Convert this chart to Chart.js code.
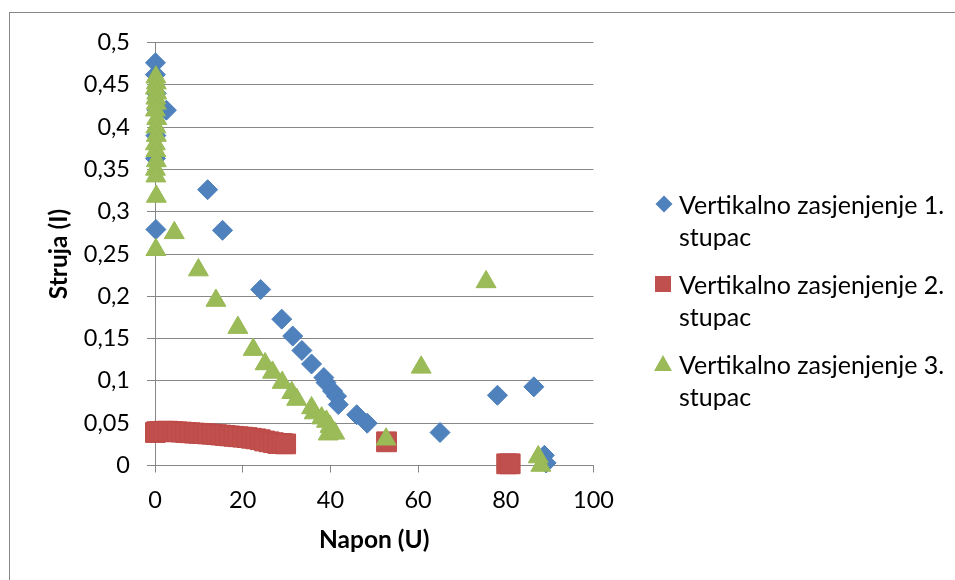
<!DOCTYPE html>
<html>
<head>
<meta charset="utf-8">
<script src="https://cdn.jsdelivr.net/npm/chart.js@4/dist/chart.umd.min.js"></script>
<style>
  html, body { margin: 0; padding: 0; background: #ffffff; }
  #wrap { position: relative; width: 955px; height: 580px; overflow: hidden; background: #fff; }
  #frame { position: absolute; left: 9px; top: 12px; width: 1000px; height: 700px;
           border-left: 1px solid #878787; border-top: 1px solid #878787; }
  #c { position: absolute; left: 0; top: 0; }
  .entry { position: absolute; left: 679px; font-family: Lato, "Open Sans", sans-serif;
           font-size: 25px; line-height: 32px; color: #000; white-space: nowrap; }
  .mk { position: absolute; }
  .mk.diamond { width: 12px; height: 12px; background: #4F81BD; transform: rotate(45deg); left: -21px; top: 10px; }
  .mk.square { width: 16px; height: 16px; background: #C0504D; left: -24px; top: 8px; }
  .mk.tri { width: 0; height: 0; border-left: 9px solid transparent; border-right: 9px solid transparent;
            border-bottom: 16px solid #9BBB59; left: -25px; top: 7px; }
</style>
</head>
<body>
<div id="wrap">
  <div id="frame"></div>
  <canvas id="c" width="955" height="580"></canvas>
  <div class="entry" id="e1" style="top:188px"><span class="mk diamond"></span>Vertikalno zasjenjenje 1.<br>stupac</div>
  <div class="entry" id="e2" style="top:268px"><span class="mk square"></span>Vertikalno zasjenjenje 2.<br>stupac</div>
  <div class="entry" id="e3" style="top:348px"><span class="mk tri"></span>Vertikalno zasjenjenje 3.<br>stupac</div>
</div>
<script>
// ---- data ----
const seriesNames = ['Vertikalno zasjenjenje 1. stupac', 'Vertikalno zasjenjenje 2. stupac', 'Vertikalno zasjenjenje 3. stupac'];

const blueX = [0.1, 0.1, 0.3, 0.5, 2.6, 0.2, 0.1, 0.2, 12.0, 15.4, 24.1, 28.9, 31.4, 33.5, 35.7, 38.5, 39.0, 40.5, 41.4, 41.8, 46.0, 48.4, 65.0, 78.1, 86.4, 88.8, 89.2];
const blueY = [0.476, 0.462, 0.44, 0.42, 0.42, 0.39, 0.363, 0.279, 0.326, 0.278, 0.208, 0.173, 0.153, 0.136, 0.120, 0.104, 0.098, 0.088, 0.082, 0.072, 0.060, 0.050, 0.039, 0.083, 0.093, 0.012, 0.003];

const redX = [0.1, 0.4, 1, 2, 3, 4, 5, 6, 7, 8, 9, 10, 11, 12, 13, 14, 15, 16, 17, 18, 19, 20, 21, 22, 23, 24, 25, 26, 27, 28, 29, 29.8, 52.8, 80.2, 81.0];
const redY = [0.039, 0.040, 0.040, 0.0405, 0.0405, 0.040, 0.0398, 0.0395, 0.039, 0.0387, 0.0383, 0.038, 0.0377, 0.0373, 0.037, 0.0365, 0.036, 0.0355, 0.035, 0.0345, 0.034, 0.0335, 0.033, 0.0322, 0.0315, 0.0305, 0.029, 0.028, 0.027, 0.026, 0.026, 0.0255, 0.028, 0.002, 0.002];

const greenX = [0.2, 0.3, 0.1, 0.4, 0.2, 0.3, 0.1, 0.4, 0.2, 0.3, 0.1, 0.2, 0.3, 0.1, 0.2, 0.3, 0.2, 4.4, 9.9, 13.9, 18.9, 22.4, 25.1, 26.8, 29.0, 31.2, 32.3, 35.7, 36.3, 38.0, 39.1, 39.5, 39.9, 40.3, 41.0, 52.7, 60.7, 75.5, 87.4, 88.0];
const greenY = [0.459, 0.452, 0.446, 0.44, 0.434, 0.428, 0.42, 0.41, 0.40, 0.39, 0.38, 0.372, 0.36, 0.35, 0.342, 0.318, 0.255, 0.275, 0.231, 0.195, 0.163, 0.137, 0.120, 0.110, 0.098, 0.086, 0.078, 0.068, 0.062, 0.056, 0.052, 0.037, 0.046, 0.040, 0.038, 0.031, 0.116, 0.217, 0.010, 0.0];

const xTickValues = [0, 20, 40, 60, 80, 100];
const xTickLabels = ['0', '20', '40', '60', '80', '100'];
const yTickValues = [0, 0.05, 0.1, 0.15, 0.2, 0.25, 0.3, 0.35, 0.4, 0.45, 0.5];
const yTickLabels = ['0', '0,05', '0,1', '0,15', '0,2', '0,25', '0,3', '0,35', '0,4', '0,45', '0,5'];
const xTitle = 'Napon (U)';
const yTitle = 'Struja (I)';

// ---- build ----
const pts = (xs, ys) => xs.map((x, i) => ({ x: x, y: ys[i] }));
const FONT = 'Lato, "Open Sans", sans-serif';
const GRID = '#878787';

new Chart(document.getElementById('c'), {
  type: 'scatter',
  data: {
    datasets: [
      { label: seriesNames[0], data: pts(blueX, blueY), pointStyle: 'rectRot', pointRadius: 10,
        backgroundColor: '#4F81BD', borderColor: '#4A7EBB', borderWidth: 1, order: 3, clip: false },
      { label: seriesNames[1], data: pts(redX, redY), pointStyle: 'rect', pointRadius: 14,
        backgroundColor: '#C0504D', borderColor: '#BE4B48', borderWidth: 1, order: 2, clip: false },
      { label: seriesNames[2], data: pts(greenX, greenY), pointStyle: 'triangle', pointRadius: 11.5,
        backgroundColor: '#9BBB59', borderColor: '#98B954', borderWidth: 1, order: 1, clip: false }
    ]
  },
  options: {
    responsive: false,
    devicePixelRatio: 1,
    animation: false,
    events: [],
    layout: { padding: { left: 0, top: 42.5, right: 361.5, bottom: 0 } },
    plugins: { legend: { display: false }, tooltip: { enabled: false } },
    scales: {
      x: {
        type: 'linear', min: 0, max: 100,
        afterFit: s => { s.height = 114.5; },
        afterBuildTicks: s => { s.ticks = xTickValues.map(v => ({ value: v })); },
        ticks: { callback: (v, i) => xTickLabels[i], font: { family: FONT, size: 23.5 }, color: '#000', padding: 14, maxRotation: 0 },
        grid: { drawOnChartArea: false, drawTicks: true, tickLength: 7, color: GRID, lineWidth: 1 },
        border: { display: true, color: GRID, width: 1 },
        title: { display: true, text: xTitle, font: { family: FONT, size: 24.5, weight: 'bold' }, color: '#000', padding: { top: 0, bottom: 25 } }
      },
      y: {
        type: 'linear', min: 0, max: 0.5,
        afterFit: s => { s.width = 155; },
        afterBuildTicks: s => { s.ticks = yTickValues.map(v => ({ value: v })); },
        ticks: { callback: (v, i) => yTickLabels[i], font: { family: FONT, size: 23.5 }, color: '#000', padding: 17 },
        grid: { drawOnChartArea: true, drawTicks: true, tickLength: 8, color: GRID, lineWidth: 1 },
        border: { display: true, color: GRID, width: 1 },
        title: { display: true, text: yTitle, font: { family: FONT, size: 24.5, weight: 'bold' }, color: '#000', padding: { top: 44, bottom: 0 } }
      }
    }
  }
});
</script>
</body>
</html>
